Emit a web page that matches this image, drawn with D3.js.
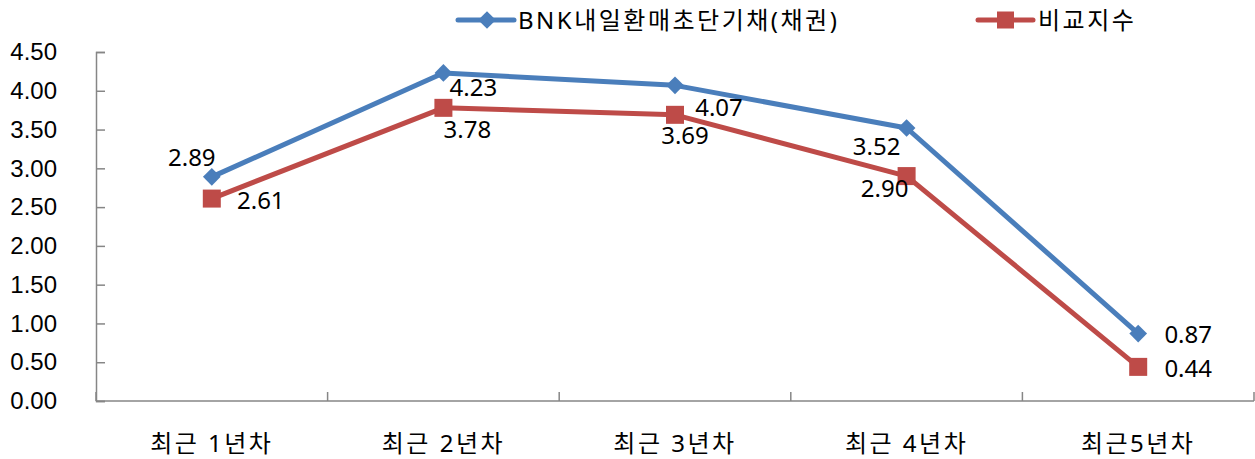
<!DOCTYPE html>
<html>
<head>
<meta charset="utf-8">
<script src="https://cdn.jsdelivr.net/npm/d3@7"></script>
<style>
  body { margin: 0; background: #fff; }
  svg { display: block; font-family: "Noto Sans", "Noto Sans CJK KR", sans-serif; }
</style>
</head>
<body>
<svg id="chart" width="1255" height="459"></svg>
<script>
const categories = ["최근 1년차", "최근 2년차", "최근 3년차", "최근 4년차", "최근5년차"];
const fundValues = [2.89, 4.23, 4.07, 3.52, 0.87];
const indexValues = [2.61, 3.78, 3.69, 2.90, 0.44];
const yTicks = [0, 0.5, 1, 1.5, 2, 2.5, 3, 3.5, 4, 4.5];
const seriesNames = ["BNK내일환매초단기채(채권)", "비교지수"];

// label offsets from each point (dx, baseline dy)
const fundLabelOffsets = [[-20, -11], [30, 23], [44, 31], [-30, 27], [50, 9]];
const indexLabelOffsets = [[49, 10], [24, 30], [10, 29], [-22, 21], [50, 10]];

const blue = "#4a7ebb";
const red = "#be4b48";
const axisColor = "#868686";
const fontSize = "24px";

const svg = d3.select("#chart");
const plot = { left: 96, right: 1254, top: 52, bottom: 401 };

const x = d3.scaleBand().domain(categories).range([plot.left, plot.right]);
const y = d3.scaleLinear().domain([0, 4.5]).range([plot.bottom, plot.top]);
const cx = d => x(d) + x.bandwidth() / 2;

// y axis
const yAxis = svg.append("g")
  .attr("transform", `translate(${plot.left},0)`)
  .call(d3.axisLeft(y).tickValues(yTicks).tickSize(-9).tickPadding(39).tickFormat(d3.format(".2f")));
yAxis.select(".domain").attr("stroke", axisColor).attr("stroke-width", 1.5);
yAxis.selectAll(".tick line").attr("stroke", axisColor).attr("stroke-width", 1.5);
yAxis.selectAll(".tick text")
  .attr("fill", "#000").style("font-size", fontSize).style("font-family", "inherit");

// x axis with boundary ticks
const xAxis = svg.append("g").attr("transform", `translate(0,${plot.bottom})`);
xAxis.append("line")
  .attr("x1", plot.left).attr("x2", plot.right)
  .attr("stroke", axisColor).attr("stroke-width", 1.5);
const bounds = categories.map(c => x(c)).concat([plot.right]);
xAxis.selectAll(".xt").data(bounds).enter().append("line")
  .attr("x1", d => d).attr("x2", d => d)
  .attr("y1", 0).attr("y2", -9)
  .attr("stroke", axisColor).attr("stroke-width", 1.5);
xAxis.selectAll(".xl").data(categories).enter().append("text")
  .attr("x", d => cx(d)).attr("y", 51)
  .attr("text-anchor", "middle")
  .style("font-size", fontSize)
  .style("letter-spacing", "2.5px")
  .text(d => d);

const line = d3.line().x((d, i) => cx(categories[i])).y(d => y(d));

// index series (red, squares)
svg.append("path").datum(indexValues)
  .attr("d", line).attr("fill", "none")
  .attr("stroke", red).attr("stroke-width", 5).attr("stroke-linejoin", "round");
svg.selectAll(".sq").data(indexValues).enter().append("rect")
  .attr("x", (d, i) => cx(categories[i]) - 9)
  .attr("y", d => y(d) - 9)
  .attr("width", 18).attr("height", 18)
  .attr("fill", red);

// fund series (blue, diamonds)
svg.append("path").datum(fundValues)
  .attr("d", line).attr("fill", "none")
  .attr("stroke", blue).attr("stroke-width", 5).attr("stroke-linejoin", "round");
svg.selectAll(".dm").data(fundValues).enter().append("path")
  .attr("d", d3.symbol(d3.symbolDiamond2, 200))
  .attr("transform", (d, i) => `translate(${cx(categories[i])},${y(d)})`)
  .attr("fill", blue);

// data labels
const addLabels = (values, offsets) => {
  svg.append("g").selectAll("text").data(values).enter().append("text")
    .attr("x", (d, i) => cx(categories[i]) + offsets[i][0])
    .attr("y", (d, i) => y(d) + offsets[i][1])
    .attr("text-anchor", "middle")
    .style("font-size", fontSize)
    .text(d => d.toFixed(2));
};
addLabels(fundValues, fundLabelOffsets);
addLabels(indexValues, indexLabelOffsets);

// legend
const legend = svg.append("g");
legend.append("line").attr("x1", 458).attr("x2", 514).attr("y1", 20).attr("y2", 20)
  .attr("stroke", blue).attr("stroke-width", 5).attr("stroke-linecap", "round");
legend.append("path").attr("d", d3.symbol(d3.symbolDiamond2, 200))
  .attr("transform", "translate(487,20)").attr("fill", blue);
legend.append("text").attr("x", 518).attr("y", 29)
  .style("font-size", fontSize).style("letter-spacing", "2.5px").text(seriesNames[0]);

legend.append("line").attr("x1", 978).attr("x2", 1033).attr("y1", 20).attr("y2", 20)
  .attr("stroke", red).attr("stroke-width", 5).attr("stroke-linecap", "round");
legend.append("rect").attr("x", 997).attr("y", 11.5).attr("width", 17).attr("height", 17).attr("fill", red);
legend.append("text").attr("x", 1038).attr("y", 29)
  .style("font-size", fontSize).style("letter-spacing", "2.5px").text(seriesNames[1]);
</script>
</body>
</html>
